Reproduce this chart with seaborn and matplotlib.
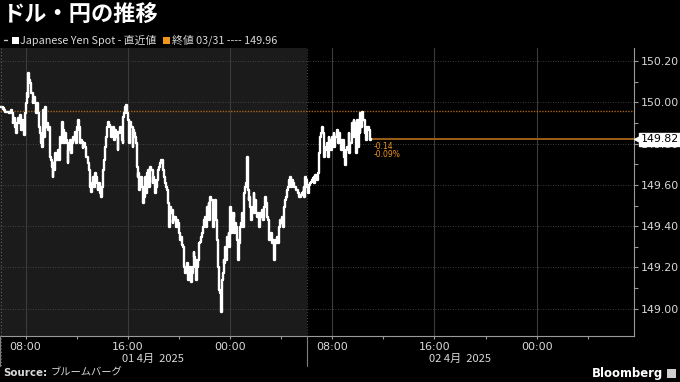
import matplotlib
matplotlib.use("Agg")
import matplotlib.pyplot as plt
import matplotlib.dates as mdates
import matplotlib.transforms as mtransforms
from matplotlib.lines import Line2D
from matplotlib.patches import Rectangle
import numpy as np
import pandas as pd
import seaborn as sns

# ---------------- data ----------------
title = "ドル・円の推移"
series_name = "Japanese Yen Spot - 直近値"
prev_close_label = "終値 03/31 ---- 149.96"
prev_close = 149.96
last_value = 149.82
change_abs = "-0.14"
change_pct = "-0.09%"
start_time = "2025-04-01 06:00"
sample_step = "235s"
prices = [
    149.979, 149.979, 149.976, 149.966, 149.971, 149.963, 149.955, 149.955, 149.955, 149.955,
    149.955, 149.950, 149.955, 149.963, 149.947, 149.898, 149.906, 149.922, 149.882, 149.850,
    149.898, 149.906, 149.922, 149.898, 149.939, 149.866, 149.914, 149.898, 149.882, 149.842,
    149.947, 149.995, 150.044, 150.027, 150.140, 150.108, 150.092, 150.044, 150.044, 149.995,
    150.011, 150.027, 149.995, 149.947, 149.995, 149.963, 149.947, 149.882, 149.850, 149.801,
    149.785, 149.834, 149.963, 149.834, 149.979, 149.882, 149.898, 149.882, 149.866, 149.882,
    149.737, 149.721, 149.689, 149.640, 149.705, 149.672, 149.753, 149.721, 149.737, 149.721,
    149.769, 149.721, 149.834, 149.801, 149.906, 149.882, 149.866, 149.801, 149.850, 149.818,
    149.801, 149.705, 149.769, 149.785, 149.818, 149.753, 149.801, 149.818, 149.834, 149.818,
    149.858, 149.801, 149.882, 149.866, 149.914, 149.882, 149.801, 149.818, 149.810, 149.777,
    149.793, 149.801, 149.785, 149.737, 149.737, 149.721, 149.705, 149.672, 149.592, 149.567,
    149.608, 149.624, 149.640, 149.592, 149.656, 149.640, 149.608, 149.576, 149.592, 149.608,
    149.559, 149.543, 149.592, 149.624, 149.672, 149.721, 149.785, 149.834, 149.882, 149.898,
    149.906, 149.890, 149.882, 149.834, 149.866, 149.882, 149.882, 149.818, 149.866, 149.850,
    149.834, 149.769, 149.858, 149.850, 149.882, 149.866, 149.818, 149.801, 149.931, 149.947,
    149.979, 149.987, 149.947, 149.931, 149.914, 149.801, 149.906, 149.882, 149.882, 149.785,
    149.866, 149.850, 149.834, 149.801, 149.689, 149.640, 149.656, 149.576, 149.624, 149.640,
    149.592, 149.527, 149.511, 149.543, 149.640, 149.559, 149.656, 149.640, 149.672, 149.592,
    149.689, 149.672, 149.672, 149.608, 149.640, 149.624, 149.559, 149.592, 149.624, 149.656,
    149.672, 149.689, 149.705, 149.721, 149.721, 149.705, 149.672, 149.640, 149.608, 149.592,
    149.576, 149.527, 149.511, 149.398, 149.495, 149.462, 149.479, 149.414, 149.430, 149.446,
    149.446, 149.398, 149.430, 149.414, 149.398, 149.366, 149.333, 149.349, 149.309, 149.301,
    149.269, 149.204, 149.172, 149.188, 149.220, 149.140, 149.172, 149.188, 149.204, 149.131,
    149.172, 149.204, 149.277, 149.253, 149.236, 149.140, 149.204, 149.236, 149.301, 149.317,
    149.325, 149.349, 149.366, 149.398, 149.414, 149.430, 149.446, 149.398, 149.495, 149.479,
    149.511, 149.430, 149.543, 149.527, 149.527, 149.398, 149.511, 149.495, 149.527, 149.430,
    149.333, 149.204, 149.172, 149.091, 149.075, 148.986, 149.140, 149.172, 149.236, 149.220,
    149.301, 149.236, 149.349, 149.333, 149.366, 149.301, 149.495, 149.366, 149.462, 149.446,
    149.462, 149.366, 149.414, 149.398, 149.333, 149.236, 149.301, 149.317, 149.398, 149.414,
    149.462, 149.398, 149.527, 149.559, 149.592, 149.608, 149.737, 149.576, 149.527, 149.543,
    149.495, 149.430, 149.479, 149.495, 149.559, 149.462, 149.527, 149.462, 149.446, 149.462,
    149.430, 149.398, 149.462, 149.446, 149.479, 149.430, 149.462, 149.495, 149.543, 149.511,
    149.446, 149.430, 149.398, 149.333, 149.349, 149.366, 149.317, 149.333, 149.301, 149.236,
    149.333, 149.317, 149.349, 149.317, 149.382, 149.398, 149.430, 149.414, 149.446, 149.398,
    149.479, 149.495, 149.527, 149.543, 149.576, 149.592, 149.608, 149.624, 149.640, 149.592,
    149.624, 149.608, 149.600, 149.592, 149.592, 149.576, 149.576, 149.559, 149.559, 149.543,
    149.543, 149.551, 149.559, 149.567, 149.592, 149.543, 149.640, 149.624, 149.592, 149.559,
    149.592, 149.600, 149.608, 149.616, 149.624, 149.632, 149.640, 149.608, 149.648, 149.640,
    149.624, 149.656, 149.721, 149.753, 149.834, 149.850, 149.882, 149.850, 149.818, 149.737,
    149.769, 149.785, 149.801, 149.737, 149.834, 149.818, 149.785, 149.769, 149.834, 149.801,
    149.850, 149.785, 149.834, 149.834, 149.866, 149.801, 149.850, 149.850, 149.801, 149.769,
    149.818, 149.818, 149.785, 149.737, 149.697, 149.769, 149.785, 149.785, 149.850, 149.753,
    149.801, 149.801, 149.898, 149.834, 149.914, 149.850, 149.898, 149.753, 149.914, 149.785,
    149.914, 149.850, 149.947, 149.882, 149.955, 149.914, 149.914, 149.866, 149.850, 149.818,
    149.882, 149.882, 149.866, 149.834, 149.818, 149.820,
]
y_ticks = [149.00, 149.20, 149.40, 149.60, 149.80, 150.00, 150.20]
day_labels = ["01 4月  2025", "02 4月  2025"]
day_label_times = ["2025-04-01 18:00", "2025-04-02 18:00"]
session_breaks = ["2025-04-01 06:00", "2025-04-02 06:00"]
x_start = "2025-04-01 06:00"
x_end = "2025-04-03 07:37"
y_min, y_max = 148.868, 150.263
source_label = "Source:"
source_name = "ブルームバーグ"
brand = "Bloomberg"

# ---------------- style ----------------
W, H = 680, 382
sns.set_style("dark")
plt.rcParams["font.family"] = ["DejaVu Sans", "Noto Sans CJK JP"]
CJK = ["Noto Sans CJK JP", "DejaVu Sans"]
TXT = "#d8d8d8"
AX = "#9a9a9a"
ORANGE = "#f0961e"
ORANGE_LINE = "#a8641a"


def fx(px):
    return px / W


def fy(py):
    return 1 - py / H


fig = plt.figure(figsize=(W / 100, H / 100), dpi=100, facecolor="black")
ax = fig.add_axes([fx(0), fy(336), fx(634), (336 - 48) / H])
ax.set_facecolor("black")

times = pd.date_range(start_time, periods=len(prices), freq=sample_step)
df = pd.DataFrame({"time": times, "price": prices})

# shaded previous session
ax.axvspan(pd.Timestamp(session_breaks[0]), pd.Timestamp(session_breaks[1]),
           color="#1b1b1b", zorder=0, lw=0)

sns.lineplot(data=df, x="time", y="price", ax=ax, color="white", lw=1.7,
             drawstyle="steps-post", estimator=None, zorder=5)

ax.set_xlim(pd.Timestamp(x_start), pd.Timestamp(x_end))
ax.set_ylim(y_min, y_max)
ax.set_xlabel("")
ax.set_ylabel("")

# previous close (dotted) and last value line
ax.axhline(prev_close, color=ORANGE_LINE, lw=1.0, ls=(0, (1, 1)), zorder=3)
last_t = times[-1]
ax.plot([last_t, pd.Timestamp(x_end)], [last_value, last_value],
        color=ORANGE_LINE, lw=1.3, zorder=4, solid_capstyle="butt")

# ticks
ax.yaxis.tick_right()
ax.set_yticks(y_ticks)
ax.set_yticklabels([f"{v:.2f}" for v in y_ticks])
ax.set_yticks(np.arange(149.1, 150.25, 0.2), minor=True)
ax.xaxis.set_major_locator(mdates.HourLocator(byhour=[0, 8, 16]))
ax.xaxis.set_major_formatter(mdates.DateFormatter("%H:%M"))
ax.xaxis.set_minor_locator(mdates.HourLocator(byhour=[4, 12, 20]))
ax.tick_params(axis="y", which="both", right=True, left=False, length=3,
               width=0.8, color=AX, labelcolor=TXT, labelsize=7.9, pad=2)
ax.tick_params(axis="x", which="both", bottom=True, length=2, width=0.8,
               color=AX, labelcolor=TXT, labelsize=8, pad=2)

ax.grid(False)
for v in y_ticks:
    ax.axhline(v, color="#505050", lw=0.6, ls=(0, (1, 2)), zorder=1)
for t in pd.date_range("2025-04-01 08:00", "2025-04-03 00:00", freq="8h"):
    ax.axvline(t, color="#3c3c3c", lw=0.8, zorder=1)
ax.axvline(pd.Timestamp(session_breaks[1]), color="#505050", lw=0.7,
           ls=(0, (1, 2)), zorder=1)

for s in ["left", "top"]:
    ax.spines[s].set_visible(False)
for s in ["right", "bottom"]:
    ax.spines[s].set_visible(True)
    ax.spines[s].set_color(AX)
    ax.spines[s].set_linewidth(0.8)

# session separators below axis
btrans = mtransforms.blended_transform_factory(ax.transData, fig.transFigure)
for sb in session_breaks:
    fig.add_artist(Line2D([mdates.date2num(pd.Timestamp(sb))] * 2,
                          [fy(336), fy(366)], transform=btrans,
                          color="#808080", lw=0.8, clip_on=False))
fig.add_artist(Line2D([fx(1)] * 2, [fy(48), fy(366)], transform=fig.transFigure,
                      color="#606060", lw=0.8, ls=(0, (1, 2))))

for lab, t in zip(day_labels, day_label_times):
    fig.text(mdates.date2num(pd.Timestamp(t)), fy(359), lab, transform=btrans,
             ha="center", va="center", color=TXT, fontsize=8, family=CJK)

# last value label (covers the 149.80 tick label as in the reference)
ytrans = mtransforms.blended_transform_factory(ax.transAxes, ax.transData)
ax.text(1.0 + 7 / 634, last_value, f"{last_value:.2f}", transform=ytrans,
        ha="left", va="center", fontsize=7.9, color="black", zorder=10,
        bbox=dict(boxstyle="square,pad=0.14", fc="white", ec="white"),
        clip_on=False)
ax.plot([1.0 + 3.5 / 634], [last_value], marker="<", ms=6, color="white",
        transform=ytrans, clip_on=False, zorder=10)

# change annotations
ax.annotate(change_abs, (last_t, last_value), xytext=(2, -5),
            textcoords="offset points", color=ORANGE, fontsize=5.5,
            ha="left", va="center")
ax.annotate(change_pct, (last_t, last_value), xytext=(2, -11),
            textcoords="offset points", color=ORANGE, fontsize=5.5,
            ha="left", va="center")

# header
fig.text(fx(3), fy(15), title, color="white", fontsize=16, family=CJK,
         weight="bold", ha="left", va="center")
fig.add_artist(Line2D([fx(4), fx(7)], [fy(40), fy(40)], transform=fig.transFigure,
                      color="#cccccc", lw=1.0))
fig.add_artist(Rectangle((fx(12), fy(44)), 7 / W, 7 / H, transform=fig.transFigure,
                         fc="white", ec="none"))
fig.text(fx(20), fy(40), series_name, color=TXT, fontsize=7.8, family=CJK,
         ha="left", va="center")
fig.add_artist(Rectangle((fx(163), fy(44)), 7 / W, 7 / H, transform=fig.transFigure,
                         fc=ORANGE, ec="none"))
fig.text(fx(172), fy(40), prev_close_label, color=TXT, fontsize=7.8, family=CJK,
         ha="left", va="center")

# footer
fig.text(fx(3), fy(373), source_label, color=TXT, fontsize=7.4, weight="bold",
         ha="left", va="center")
fig.text(fx(51), fy(373), source_name, color=TXT, fontsize=7.4, family=CJK,
         ha="left", va="center")
fig.text(fx(663), fy(373), brand, color="white", fontsize=8.4, weight="bold",
         ha="right", va="center")
fig.add_artist(Rectangle((fx(667), fy(378)), 9 / W, 9 / H, transform=fig.transFigure,
                         fc="#cfcfcf", ec="none"))

fig.savefig("out.png", dpi=100, facecolor="black")
